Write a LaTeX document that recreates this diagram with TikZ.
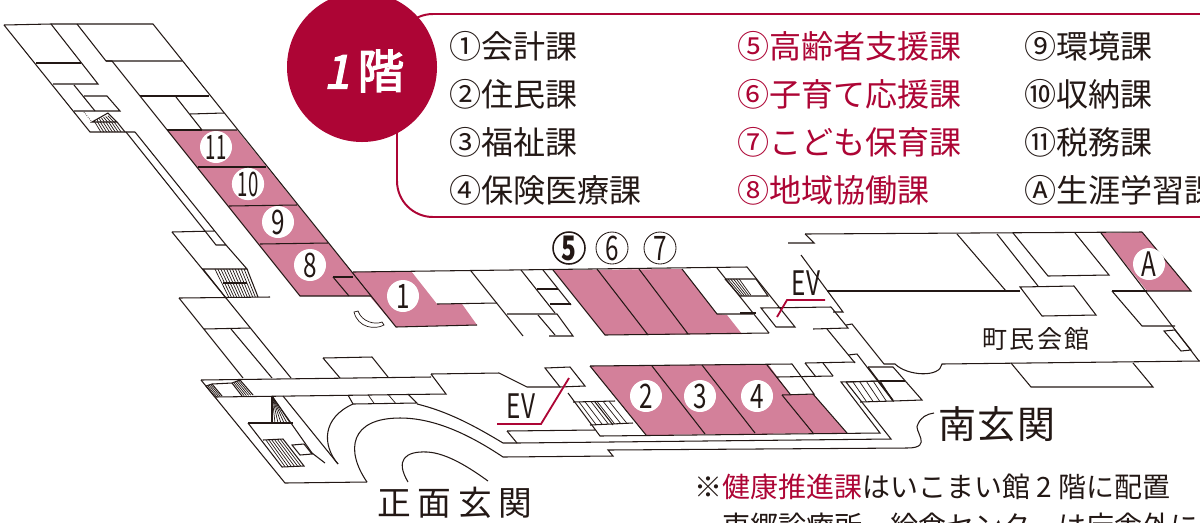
\documentclass[tikz,border=0pt]{standalone}
\usepackage{fontspec}
\usetikzlibrary{calc}
\setmainfont{Noto Sans CJK JP}
\newfontfamily\onefont[FakeBold=3,FakeSlant=0.2]{Noto Sans CJK JP}
\newfontfamily\headfont[FakeBold=3]{Noto Sans CJK JP}
\newfontfamily\digfont[FakeStretch=0.72]{Noto Sans CJK JP}
\newfontfamily\tightfont[FakeStretch=0.55]{Noto Sans CJK JP}
\newfontfamily\halllfont[LetterSpace=8]{Noto Sans CJK JP}
\newfontfamily\southfont[LetterSpace=5]{Noto Sans CJK JP}
\newfontfamily\frontfont[LetterSpace=20]{Noto Sans CJK JP}
\definecolor{ink}{HTML}{231815}
\definecolor{crimson}{HTML}{AD0535}
\definecolor{roompink}{HTML}{D3809A}
\tikzset{
	wall/.style={line width=0.75pt,draw=ink},
	stepline/.style={line width=0.5pt,draw=ink},
	room/.style={fill=roompink},
	evline/.style={line width=1.3pt,draw=crimson},
	listtext/.style={anchor=base west,inner sep=0pt,text=ink,font=\fontsize{22.8}{27}\selectfont},
	notetext/.style={anchor=base west,inner sep=0pt,text=ink,font=\fontsize{19.9}{24}\selectfont},
	numdot/.style={circle,fill=white,inner sep=0pt,minimum size=0.8cm,text=ink,font=\digfont\fontsize{24}{24}\selectfont},
	numring/.style={numdot,draw=ink,line width=0.6pt},
}
\newcommand{\stairs}[5]{\foreach \stairn in {1,...,#5}{
		\pgfmathsetmacro{\stairt}{\stairn/(#5+1)}
		\draw[stepline] ($#1!\stairt!#4$) -- ($#2!\stairt!#3$);}}
\begin{document}
\begin{tikzpicture}[x=0.025cm,y=-0.025cm]
	\clip (0,0) rectangle (1200,522);

	\fill[room] (167,130) -- (237,130) -- (371,296) -- (300,296) -- cycle;
	\fill[room] (349,272) -- (411,271) -- (437,304) -- (462,304) -- (477,325) -- (396,327) -- cycle;
	\fill[room] (553,270) -- (682,269) -- (717,314) -- (727,315) -- (742,334) -- (605,335) -- cycle;
	\fill[room] (590,366) -- (768,364) -- (790,394) -- (813,394) -- (847,433) -- (646,435) -- cycle;
	\fill[room] (1101,233) -- (1142,232) -- (1191,291) -- (1147,291) -- cycle;

	\draw[wall] (4,25) -- (51,24) -- (98,84) -- (53,84);
	\draw[wall] (4,25) -- (90,132) -- (135,132);
	\draw[wall] (36,63) -- (81,63);
	\draw[wall] (74,85) -- (95,111);
	\draw[wall] (84,96) -- (107,96) -- (120,111) -- (74,111);
	\draw[stepline,densely dotted] (84,112) -- (92,122);
	\draw[wall] (92,122) -- (108,113) -- (117,122) -- cycle;
	\draw[wall] (117,122) -- (125,132);
	\stairs{(95,120)}{(95,122)}{(117,122)}{(110,115)}{6}
	\stairs{(92,122)}{(98,132)}{(124,132)}{(117,122)}{8}
	\draw[wall] (51,24) -- (153,24) -- (396,327) -- (477,325);
	\draw[wall] (77,24) -- (106,61) -- (182,61);
	\draw[wall] (106,61) -- (112,61) -- (300,296) -- (371,296);
	\draw[wall] (140,96) -- (209,96);
	\draw[wall] (176,97) -- (202,130) -- (237,130);
	\draw[wall] (190,114) -- (224,113);
	\draw[wall] (167,130) -- (202,130);
	\draw[wall] (198,167) -- (266,167);
	\draw[wall] (229,206) -- (297,205);
	\draw[wall] (260,244) -- (328,243);
	\draw[wall] (333,277) -- (353,277);
	\draw[wall] (333,277) -- (349,296);

	\draw[wall] (126,132) -- (205,231);
	\draw[wall] (135,132) -- (226,245) -- (216,245) -- (205,231);
	\draw[wall] (172,232) -- (214,231);
	\draw[wall] (172,232) -- (226,298);
	\draw[wall] (226,245) -- (247,269) -- (203,269) -- (226,298);
	\draw[wall] (247,269) -- (258,297);
	\stairs{(212,269)}{(226,297)}{(258,297)}{(247,269)}{11}
	\draw[wall] (223,283) -- (247,283);
	\draw[wall] (179,298) -- (270,297);
	\draw[wall] (179,298) -- (243,378);
	\draw[wall] (226,298) -- (291,378);
	\draw[wall] (204,329) -- (250,328);
	\draw[wall] (231,329) -- (272,378);

	\draw[wall] (201,380) -- (431,377);
	\draw[wall] (431,374) -- (499,373) -- (527,387) -- (560,387);
	\draw[wall] (431,374) -- (446,394) -- (215,397);
	\draw[wall] (201,380) -- (285,483) -- (367,482);
	\draw[wall] (206,386) -- (212,384) -- (232,383) -- (240,380);
	\draw[wall] (212,384) -- (222,396);
	\draw[wall] (206,386) -- (215,397);
	\stairs{(206,386)}{(215,397)}{(222,396)}{(212,384)}{3}
	\draw[wall] (232,383) -- (242,396);
	\draw[wall] (240,380) -- (253,395);
	\stairs{(232,383)}{(242,396)}{(253,395)}{(240,380)}{4}
	\draw[wall] (272,396) -- (272,423);
	\draw[wall] (272,396) -- (312,453);
	\draw[wall] (312,453) -- (325,463);
	\draw[wall] (283,396) -- (338,464);
	\stairs{(272,397)}{(272,423)}{(293,423)}{(273,397)}{6}
	\draw[wall] (248,423) -- (293,423);
	\draw[wall] (248,423) -- (282,467) -- (304,466) -- (283,439) -- (263,440);
	\stairs{(263,440)}{(282,467)}{(304,466)}{(283,439)}{6}
	\draw[wall] (292,445) -- (304,444) -- (312,454) -- (300,455) -- cycle;
	\draw[wall] (348,395) -- (353,404) -- (417,403) -- (408,394);
	\stairs{(348,395)}{(353,404)}{(417,403)}{(408,394)}{2}
	\draw[wall] (323,358) -- (372,357) -- (388,377);
	\draw[wall] (323,358) -- (340,378);
	\draw[wall] (353,404) .. controls (322,418) and (322,445) .. (338,464);
	\draw[wall] (417,404) .. controls (450,412) and (478,428) .. (503,443) -- (517,443);
	\draw[wall] (367,482) .. controls (345,450) and (350,418) .. (400,418) .. controls (435,418) and (470,435) .. (503,457) -- (613,456) -- (608,450) -- (907,448) .. controls (935,448) and (912,430) .. (918,424) .. controls (921,417) and (927,414) .. (934,413);
	\draw[wall] (408,482) .. controls (395,460) and (405,451) .. (427,452) .. controls (447,453) and (470,468) .. (488,481);
	\draw[stepline] (354,312) .. controls (358,328) and (375,330) .. (384,325) -- (382,322) .. controls (375,325) and (362,322) .. (358,311) -- cycle;

	\draw[wall] (353,272) -- (747,267) -- (795,327) -- (776,327) -- (761,308) -- (831,307);
	\draw[wall] (437,304) -- (497,303);
	\draw[wall] (471,271) -- (523,336);
	\draw[wall] (521,270) -- (555,313);
	\draw[wall] (537,289) -- (558,289);
	\draw[wall] (543,270) -- (571,305);
	\draw[wall] (550,304) -- (571,304);
	\draw[wall] (507,314) -- (557,314) -- (573,336) -- (549,336);
	\draw[wall] (538,315) -- (555,335);
	\draw[wall] (553,270) -- (605,335) -- (769,333);
	\draw[wall] (597,269) -- (648,335);
	\draw[wall] (639,269) -- (688,334);
	\draw[wall] (682,269) -- (717,314) -- (753,314);
	\draw[wall] (717,268) -- (769,333);
	\draw[wall] (725,279) -- (756,279) -- (768,296) -- (740,296);
	\draw[wall] (725,279) -- (740,296);
	\stairs{(725,279)}{(740,296)}{(753,295)}{(742,279)}{5}
	\draw[wall] (740,313) -- (756,313);

	\draw[wall] (545,368) -- (570,367) -- (585,386) -- (560,387) -- cycle;
	\draw[wall] (568,393) -- (600,436) -- (880,433) -- (841,382) -- (880,381);
	\draw[wall] (507,431) -- (595,430);
	\draw[wall] (507,431) -- (517,443) -- (891,439) -- (846,382);
	\draw[wall] (573,402) -- (615,401);
	\draw[wall] (590,425) -- (633,423);
	\stairs{(573,402)}{(590,425)}{(633,423)}{(615,401)}{6}
	\draw[wall] (595,402) -- (613,425);
	\draw[wall] (590,366) -- (792,364) -- (814,394) -- (782,395);
	\draw[wall] (590,366) -- (646,435);
	\draw[wall] (652,366) -- (705,434);
	\draw[wall] (702,365) -- (755,433);
	\draw[wall] (767,365) -- (790,394);
	\draw[wall] (777,377) -- (833,376);
	\draw[wall] (782,395) -- (813,433);
	\draw[wall] (813,394) -- (847,433);
	\draw[wall] (805,363) -- (855,362);
	\draw[wall] (805,363) -- (816,377);
	\draw[wall] (823,363) -- (833,376);

	\draw[wall] (846,382) -- (880,381) -- (893,401) -- (860,402);
	\stairs{(846,382)}{(860,402)}{(893,401)}{(880,381)}{4}
	\draw[wall] (848,355) -- (857,354) -- (893,401);
	\draw[wall] (868,367) -- (893,367) -- (922,400) -- (893,401);
	\draw[wall] (868,367) -- (893,400);
	\draw[wall] (880,381) -- (905,381);

	\draw[wall] (805,234) -- (1142,232);
	\draw[wall] (805,234) -- (814,243) -- (788,243);
	\draw[wall] (801,255) -- (843,312) -- (833,312);
	\draw[wall] (827,291) -- (1020,291);
	\draw[wall] (831,307) -- (848,328) -- (813,329);
	\draw[wall] (827,329) -- (855,363);
	\draw[wall] (846,325) -- (852,324) -- (884,364) -- (895,364) .. controls (907,376) and (940,378) .. (942,364) -- (1200,361);
	\draw[wall] (957,234) -- (1006,291);
	\draw[wall] (997,234) -- (1038,286);
	\draw[wall] (1013,233) -- (1048,276) -- (1109,275) -- (1075,233);
	\draw[wall] (1020,287) -- (1074,286) -- (1096,315) -- (1042,316) -- cycle;
	\draw[wall] (1101,233) -- (1199,361);
	\draw[wall] (1142,232) -- (1191,291) -- (1147,291);
	\draw[wall] (1112,291) -- (1147,291);
	\draw[wall] (1112,291) -- (1142,326) -- (1175,326);
	\draw[wall] (1164,331) -- (1175,330) -- (1191,350) -- (1181,351) -- cycle;
	\draw[wall] (1011,363) -- (1031,387) -- (1153,387) -- (1133,363);

	\node[numdot] (numeleven) at (216,147) {\tightfont 11};
	\node[numdot] (numten) at (248,184) {\tightfont 10};
	\node[numdot] (numnine) at (278,222) {9};
	\node[numdot] (numeight) at (310,265) {8};
	\node[numdot] (numone) at (403,296) {1};
	\node[numdot] (numtwo) at (646,396) {2};
	\node[numdot] (numthree) at (700,396) {3};
	\node[numdot] (numfour) at (757,396) {4};
	\node[numdot] (numa) at (1149,264) {A};
	\node[numring,line width=1.1pt,font=\digfont\bfseries\fontsize{24}{24}\selectfont] (numfive) at (569,248) {5};
	\node[numring] (numsix) at (612,248) {6};
	\node[numring] (numseven) at (660,248) {7};

	\node[inner sep=0pt,text=ink,font=\digfont\fontsize{24}{24}\selectfont,anchor=base] (evupper) at (806,295) {EV};
	\node[inner sep=0pt,text=ink,font=\digfont\fontsize{24}{24}\selectfont,anchor=base] (evlower) at (521,418) {EV};
	\coordinate (evupperend) at (825,300);
	\coordinate (evupperknee) at (787,300);
	\coordinate (evupperbox) at (777,317);
	\coordinate (evlowerend) at (497,424);
	\coordinate (evlowerknee) at (541,424);
	\coordinate (evlowerbox) at (569,378);
	\draw[evline] (evupperend) -- (evupperknee) -- (evupperbox);
	\draw[evline] (evlowerend) -- (evlowerknee) -- (evlowerbox);

	\node[inner sep=0pt,text=ink,font=\halllfont\fontsize{17.8}{20}\selectfont] (hall) at (1036,339) {町民会館};
	\node[inner sep=0pt,text=ink,font=\southfont\fontsize{27}{30}\selectfont] (southgate) at (997,424) {南玄関};
	\node[inner sep=0pt,text=ink,font=\frontfont\fontsize{24}{28}\selectfont] (frontgate) at (455,503) {正面玄関};

	\fill[white,rounded corners=0.9cm] (397,14) rectangle (1300,217);
	\draw[crimson,line width=1.4pt,rounded corners=0.9cm] (397,14) rectangle (1300,217);
	\fill[crimson] (362,67) circle (75);
	\node[text=white,inner sep=0pt] (floorname) at (364,71) {{\onefont\fontsize{33}{33}\selectfont 1}\hspace{2mm}{\headfont\fontsize{33}{33}\selectfont 階}};

	\node[listtext] (listone) at (449,58) {①会計課};
	\node[listtext] (listtwo) at (449,106) {②住民課};
	\node[listtext] (listthree) at (449,154) {③福祉課};
	\node[listtext] (listfour) at (449,202) {④保険医療課};
	\node[listtext,text=crimson] (listfive) at (737,58) {⑤高齢者支援課};
	\node[listtext,text=crimson] (listsix) at (737,106) {⑥子育て応援課};
	\node[listtext,text=crimson] (listseven) at (737,154) {⑦こども保育課};
	\node[listtext,text=crimson] (listeight) at (737,202) {⑧地域協働課};
	\node[listtext] (listnine) at (1024,58) {⑨環境課};
	\node[listtext] (listten) at (1024,106) {⑩収納課};
	\node[listtext] (listeleven) at (1024,154) {⑪税務課};
	\node[listtext] (lista) at (1024,202) {Ⓐ生涯学習課};

	\node[notetext] (noteone) at (694,497) {※\textcolor{crimson}{健康推進課}はいこまい館 2 階に配置};
	\node[notetext] (notetwo) at (722,536) {東郷診療所、給食センターは庁舎外に};
\end{tikzpicture}
\end{document}
